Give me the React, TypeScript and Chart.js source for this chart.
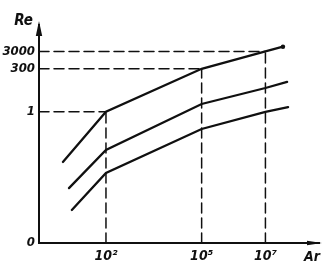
import React, { useEffect, useRef } from 'react';
import { Chart, registerables } from 'chart.js';

Chart.register(...registerables);

// Axes in log10 units (schematic diagram Re = f(Ar))
const X_MIN = -0.1;
const X_MAX = 8.68;
const Y_MIN = -7.56;
const Y_MAX = 5.0;

const xTickValues = [2, 5, 7];
const xTickLabels = ['10²', '10⁵', '10⁷'];
const yTickValues = [Y_MIN, 0, 2.477, 3.477];
const yTickLabels = ['0', '1', '300', '3000'];

// guide pairs: (log Re level, log Ar position)
const guideRe = [0, 2.477, 3.477];
const guideAr = [2, 5, 7];

// curves (log Ar, log Re)
const topLogAr = [0.65, 2, 5, 7, 7.55];
const topLogRe = [-2.89, 0, 2.477, 3.477, 3.75];
const midLogAr = [0.84, 2, 5, 7, 7.68];
const midLogRe = [-4.4, -2.2, 0.45, 1.37, 1.72];
const lowLogAr = [0.93, 2, 5, 7, 7.71];
const lowLogRe = [-5.66, -3.53, -0.99, 0, 0.27];

const INK = '#101010';
const FONT = "'DejaVu Sans Condensed', 'DejaVu Sans', 'Liberation Sans', sans-serif";

const zip = (xs: number[], ys: number[]) => xs.map((x, i) => ({ x, y: ys[i] }));

const decor = {
  id: 'decor',
  afterDraw(chart: any) {
    const { ctx, chartArea } = chart;
    const { left, right, top, bottom } = chartArea;
    ctx.save();
    ctx.fillStyle = INK;
    // y arrow
    ctx.beginPath();
    ctx.moveTo(left, top - 4);
    ctx.lineTo(left - 3.2, top + 11);
    ctx.lineTo(left + 3.2, top + 11);
    ctx.closePath();
    ctx.fill();
    // x arrow
    ctx.beginPath();
    ctx.moveTo(right + 3, bottom);
    ctx.lineTo(right - 12, bottom - 2.3);
    ctx.lineTo(right - 12, bottom + 2.3);
    ctx.closePath();
    ctx.fill();
    // axis names
    ctx.textBaseline = 'alphabetic';
    ctx.font = `italic bold 15px ${FONT}`;
    ctx.textAlign = 'right';
    ctx.fillText('Re', left - 6, top);
    ctx.font = `italic bold 14px ${FONT}`;
    ctx.textAlign = 'left';
    ctx.fillText('Ar', right - 15, bottom + 18);
    ctx.restore();
  },
};

export default function App() {
  const ref = useRef<HTMLCanvasElement | null>(null);

  useEffect(() => {
    if (!ref.current) return;
    const dash = { borderColor: INK, borderWidth: 1.5, borderDash: [10, 5], pointRadius: 0, fill: false, order: 2 };
    const guides: any[] = [];
    guideRe.forEach((re, i) => {
      guides.push({ ...dash, data: [{ x: X_MIN, y: re }, { x: guideAr[i], y: re }] });
      guides.push({ ...dash, data: [{ x: guideAr[i], y: Y_MIN }, { x: guideAr[i], y: re }] });
    });
    const curve = (xs: number[], ys: number[], dot: boolean) => ({
      data: zip(xs, ys),
      borderColor: INK,
      backgroundColor: INK,
      borderWidth: 2.3,
      pointRadius: xs.map((_, i) => (dot && i === xs.length - 1 ? 2.2 : 0)),
      pointBorderWidth: 0,
      fill: false,
      order: 1,
    });
    const chart = new Chart(ref.current, {
      type: 'scatter',
      data: {
        datasets: [
          ...guides,
          curve(topLogAr, topLogRe, true),
          curve(midLogAr, midLogRe, false),
          curve(lowLogAr, lowLogRe, false),
        ],
      },
      options: {
        animation: false,
        responsive: false,
        devicePixelRatio: 1,
        showLine: true,
        layout: { padding: { top: 25, right: 4, left: 0, bottom: 0 } },
        plugins: { legend: { display: false }, tooltip: { enabled: false } },
        elements: { line: { tension: 0, borderCapStyle: 'round' } },
        scales: {
          x: {
            type: 'linear',
            min: X_MIN,
            max: X_MAX,
            grid: { display: false, drawTicks: false, tickLength: 0 },
            border: { display: true, color: INK, width: 2 },
            afterBuildTicks: (s: any) => {
              s.ticks = xTickValues.map((v) => ({ value: v }));
            },
            afterFit: (s: any) => {
              s.height = 22;
            },
            ticks: {
              autoSkip: false,
              maxRotation: 0,
              padding: 5,
              color: INK,
              font: { family: FONT, size: 14, style: 'italic', weight: 'bold' },
              callback: (v: any) => xTickLabels[xTickValues.indexOf(Number(v))] ?? '',
            },
          },
          y: {
            type: 'linear',
            min: Y_MIN,
            max: Y_MAX,
            grid: { display: false, drawTicks: false, tickLength: 0 },
            border: { display: true, color: INK, width: 2 },
            afterBuildTicks: (s: any) => {
              s.ticks = yTickValues.map((v) => ({ value: v }));
            },
            afterFit: (s: any) => {
              s.width = 39;
            },
            ticks: {
              autoSkip: false,
              padding: 4,
              color: INK,
              font: { family: FONT, size: 13, style: 'italic', weight: 'bold' },
              callback: (v: any) => yTickLabels[yTickValues.indexOf(Number(v))] ?? '',
            },
          },
        },
      },
      plugins: [decor],
    } as any);
    return () => chart.destroy();
  }, []);

  return (
    <div style={{ position: 'fixed', left: 0, top: 0, width: 323, height: 265, background: '#fff' }}>
      <canvas ref={ref} width={323} height={265} style={{ display: 'block', width: 323, height: 265 }} />
    </div>
  );
}
